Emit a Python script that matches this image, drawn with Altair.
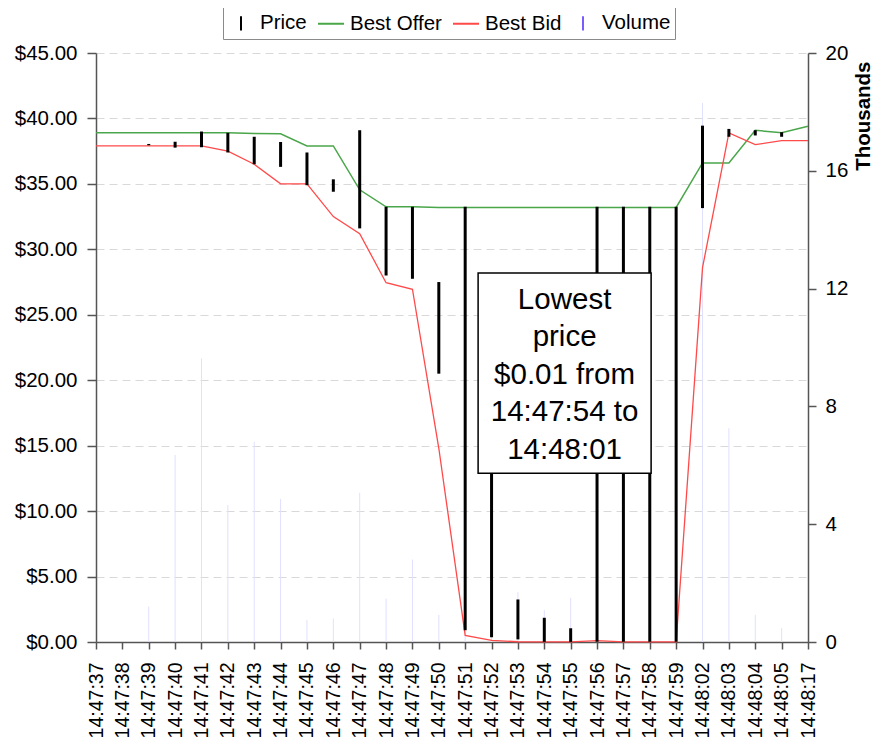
import altair as alt
import pandas as pd

FONT = "Liberation Sans"

# ---- data ----
times = ["14:47:37", "14:47:38", "14:47:39", "14:47:40", "14:47:41", "14:47:42",
         "14:47:43", "14:47:44", "14:47:45", "14:47:46", "14:47:47", "14:47:48",
         "14:47:49", "14:47:50", "14:47:51", "14:47:52", "14:47:53", "14:47:54",
         "14:47:55", "14:47:56", "14:47:57", "14:47:58", "14:47:59", "14:48:02",
         "14:48:03", "14:48:04", "14:48:05", "14:48:17"]

best_offer = [38.9, 38.9, 38.9, 38.9, 38.9, 38.9, 38.85, 38.83, 37.9, 37.9,
              34.55, 33.25, 33.25, 33.2, 33.2, 33.2, 33.2, 33.2, 33.2, 33.2,
              33.2, 33.2, 33.2, 36.6, 36.6, 39.1, 38.9, 39.4]

best_bid = [37.9, 37.9, 37.9, 37.9, 37.9, 37.5, 36.5, 35.0, 35.0, 32.5,
            31.2, 27.45, 26.95, 14.8, 0.5, 0.12, 0.02, 0.01, 0.01, 0.1,
            0.01, 0.01, 0.01, 28.6, 38.9, 38.0, 38.3, 38.3]

price_high = [None, None, 38.05, 38.22, 39.0, 38.9, 38.6, 38.2, 37.4, 35.35,
              39.1, 33.25, 33.25, 27.5, 33.25, 20.0, 3.25, 1.85, 1.05, 33.25,
              33.25, 33.25, 33.25, 39.45, 39.2, 39.1, 38.95, None]

price_low = [None, None, 37.95, 37.77, 37.8, 37.4, 36.5, 36.3, 34.9, 34.4,
             31.6, 28.0, 27.75, 20.5, 0.9, 0.36, 0.2, 0.01, 0.01, 0.01,
             0.01, 0.01, 0.01, 33.15, 38.6, 38.7, 38.6, None]

volume_k = [0, 0, 1.2, 6.35, 9.63, 4.65, 6.8, 4.86, 0.75, 0.8,
            5.07, 1.47, 2.8, 0.92, 1.5, 1.5, 1.69, 1.09, 1.5, 1.0,
            1.0, 1.0, 1.0, 18.3, 7.26, 0.92, 0.47, 0]

legend_names = ["Price", "Best Offer", "Best Bid", "Volume"]
legend_colors = ["#000000", "#4aa64a", "#ff4a4a", "#7a5cff"]
legend_shapes = ["M0,-0.55L0,0.55", "M-1,0L1,0", "M-1,0L1,0", "M0,-0.55L0,0.55"]

note_lines = ["Lowest", "price", "$0.01 from", "14:47:54 to", "14:48:01"]
note_box_x = [14.49, 21.05]
note_box_y = [12.9, 28.2]
note_text_x = 17.77
note_text_y = 26.15  # centre of the first line

price_ticks = list(range(0, 46, 5))
volume_ticks = [0, 4, 8, 12, 16, 20]

# ---- tables ----
idx = list(range(len(times)))
df = pd.DataFrame({
    "idx": idx, "time": times, "offer": best_offer, "bid": best_bid,
    "high": price_high, "low": price_low, "vol": volume_k,
})
df["zero"] = 0.0

box_df = pd.DataFrame({"idx": [note_box_x[0]], "idx2": [note_box_x[1]],
                       "y": [note_box_y[0]], "y2": [note_box_y[1]]})
text_df = pd.DataFrame({"idx": [note_text_x], "y": [note_text_y]})
legend_df = pd.DataFrame({"series": legend_names, "idx": [0] * 4, "y": [0] * 4})

label_expr = "[" + ",".join("'" + t + "'" for t in times) + "][datum.value]"

x_scale = alt.Scale(domain=[0, len(times) - 1], nice=False, zero=False)
x_axis = alt.Axis(values=idx, labelExpr=label_expr, labelAngle=270,
                  labelOverlap=False, labelFlush=False, tickSize=7,
                  labelPadding=13, labelFontSize=19.5, grid=False, title=None)


def X(field="idx"):
    return alt.X(field + ":Q", scale=x_scale, axis=x_axis, title=None)


price_scale = alt.Scale(domain=[0, 45], nice=False, zero=True)
price_axis = alt.Axis(orient="left", values=price_ticks, format="$.2f",
                      grid=True, gridDash=[8, 5], gridColor="#d9d9d9",
                      tickSize=9, labelPadding=10, labelFlush=False, title=None)


def Yp(field):
    return alt.Y(field + ":Q", scale=price_scale, axis=price_axis, title=None)


vol_scale = alt.Scale(domain=[0, 20], nice=False, zero=True)
vol_axis = alt.Axis(orient="right", values=volume_ticks, grid=False,
                    tickSize=8, labelPadding=9, labelFlush=False,
                    title="Thousands", titleFontWeight="bold", titleAngle=270,
                    titleAlign="right", titleBaseline="top", titleX=45, titleY=8)

base = alt.Chart(df)

volume = base.transform_filter("datum.vol > 0").mark_rule(
    color="#e0e0ff", strokeWidth=1
).encode(
    x=X(),
    y=alt.Y("zero:Q", scale=vol_scale, axis=vol_axis, title="Thousands"),
    y2="vol:Q",
)

offer_line = base.mark_line(color=legend_colors[1], strokeWidth=1.5).encode(
    x=X(), y=Yp("offer"))
bid_line = base.mark_line(color=legend_colors[2], strokeWidth=1.3).encode(
    x=X(), y=Yp("bid"))

price_rule = base.transform_filter("datum.high != null").mark_rule(
    color="black", strokeWidth=3
).encode(x=X(), y=Yp("low"), y2="high:Q")

box = alt.Chart(box_df).mark_rect(fill="white", stroke="black", strokeWidth=1.5).encode(
    x=X(), x2="idx2:Q", y=Yp("y"), y2="y2:Q")

note = alt.Chart(text_df).mark_text(
    text=note_lines, font=FONT, fontSize=29.5, lineHeight=37.5,
    align="center", baseline="middle", color="black"
).encode(x=X(), y=Yp("y"))

leg = alt.Legend(title=None, orient="none", legendX=127, legendY=-48,
                 direction="horizontal", strokeColor="#8a8a8a", fillColor="white",
                 padding=4, labelFont=FONT, labelFontSize=20.5, labelColor="black",
                 symbolSize=676, symbolStrokeWidth=2, symbolOpacity=1,
                 columnPadding=7, labelOffset=5)

legend_layer = alt.Chart(legend_df).mark_point(opacity=0, filled=False).encode(
    x=X(), y=Yp("y"),
    color=alt.Color("series:N", scale=alt.Scale(domain=legend_names, range=legend_colors),
                    legend=leg, sort=legend_names),
    shape=alt.Shape("series:N", scale=alt.Scale(domain=legend_names, range=legend_shapes),
                    legend=leg, sort=legend_names),
)

price_layer = alt.layer(offer_line, bid_line, price_rule, box, note, legend_layer)

chart = alt.layer(volume, price_layer).resolve_scale(y="independent").properties(
    width=712, height=589,
    autosize=alt.AutoSizeParams(type="none"),
    padding={"left": 88, "top": 45, "right": 64, "bottom": 96},
).configure_view(stroke=None).configure_axis(
    labelFont=FONT, labelFontSize=20.5, titleFont=FONT, titleFontSize=20.5,
    labelColor="black", titleColor="black", domainColor="#555", tickColor="#555",
    domainWidth=1.5, tickWidth=1.5,
)

chart.save("out.html", embed_options={"renderer": "svg", "actions": False})
